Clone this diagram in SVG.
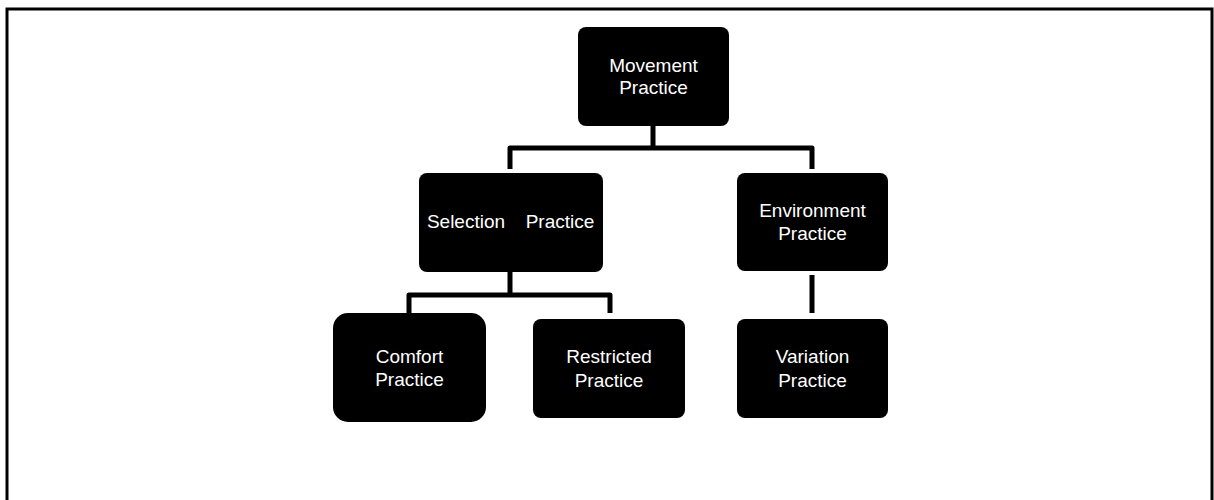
<svg xmlns="http://www.w3.org/2000/svg" width="1214" height="500" viewBox="0 0 1214 500">
<style>
.node{fill:#000}
.t{fill:#fff;font-family:"Liberation Sans",Arial,sans-serif;font-size:19px;text-anchor:middle}
.c{fill:none;stroke:#000;stroke-width:5;stroke-linejoin:round}
</style>
<rect x="0" y="0" width="1214" height="500" fill="#fff"/>
<path d="M7 510 V9 H1212 V510" fill="none" stroke="#000" stroke-width="3"/>
<g id="connectors">
<path class="c" d="M653 126 V148"/>
<path class="c" d="M510 169 V148 H812 V169"/>
<path class="c" d="M510 272 V295"/>
<path class="c" d="M409 313 V295 H610 V313"/>
<path class="c" d="M812 275 V313" stroke-width="6"/>
</g>
<g id="movement">
<rect class="node" x="578" y="27" width="151" height="99" rx="8"/>
<text class="t" x="653.5" y="72">Movement</text>
<text class="t" x="653.5" y="94">Practice</text>
</g>
<g id="selection">
<rect class="node" x="419" y="173" width="184" height="99" rx="8"/>
<text class="t" x="466" y="228">Selection</text>
<text class="t" x="560" y="228">Practice</text>
</g>
<g id="environment">
<rect class="node" x="737" y="173" width="151" height="98" rx="8"/>
<text class="t" x="812.5" y="217">Environment</text>
<text class="t" x="812.5" y="240">Practice</text>
</g>
<g id="comfort">
<rect class="node" x="333" y="313" width="153" height="109" rx="15"/>
<text class="t" x="409.5" y="363">Comfort</text>
<text class="t" x="409.5" y="386">Practice</text>
</g>
<g id="restricted">
<rect class="node" x="533" y="319" width="152" height="99" rx="8"/>
<text class="t" x="609" y="363">Restricted</text>
<text class="t" x="609" y="387">Practice</text>
</g>
<g id="variation">
<rect class="node" x="737" y="319" width="151" height="99" rx="8"/>
<text class="t" x="812.5" y="363">Variation</text>
<text class="t" x="812.5" y="387">Practice</text>
</g>
</svg>
